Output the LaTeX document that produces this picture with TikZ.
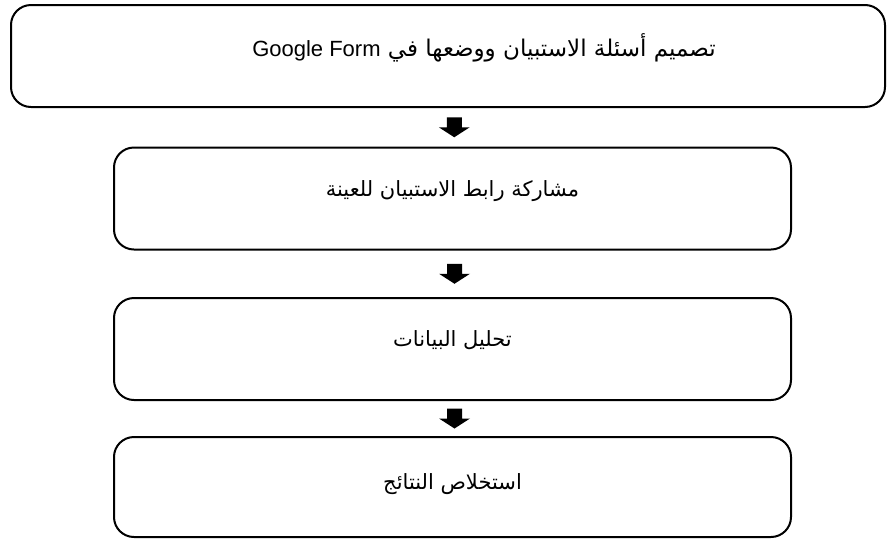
\documentclass[tikz,border=0pt]{standalone}
\usepackage{fontspec}
\newfontfamily\arabicfont[Script=Arabic]{DejaVu Sans}
\newfontfamily\latinfont{Liberation Sans}
\TeXXeTstate=1
\usetikzlibrary{calc}

\tikzset{
	stepbox/.style={draw, line width=2pt, rounded corners=20pt, minimum height=102pt, inner sep=0pt},
	steptext/.style={font=\arabicfont\fontsize{21}{25}\selectfont, inner sep=0pt},
	blockarrow/.pic={\fill (-7.5,-10) -- (7.5,-10) -- (7.5,0) -- (15.5,0) -- (0,10) -- (-15.5,0) -- (-7.5,0) -- cycle;}
}

\begin{document}
\begin{tikzpicture}[x=1pt,y=-1pt]
	\useasboundingbox (0,0) rectangle (888,539);

	\node[stepbox, minimum width=874pt] (b1) at (448,56) {};
	\node[stepbox, minimum width=677pt] (b2) at (452.5,198.5) {};
	\node[stepbox, minimum width=677pt] (b3) at (452.5,349) {};
	\node[stepbox, minimum width=677pt, minimum height=100pt] (b4) at (452.5,487) {};

	\node[steptext, font=\arabicfont\fontsize{23}{27}\selectfont] (t1) at ([xshift=36pt,yshift=8pt]b1.center) {\beginR تصميم أسئلة الاستبيان ووضعها في \beginL{\latinfont\fontsize{22}{26}\selectfont Google Form}\endL\endR};
	\node[steptext] (t2) at ([yshift=7pt]b2.center) {\beginR مشاركة رابط الاستبيان للعينة\endR};
	\node[steptext] (t3) at ([yshift=9pt]b3.center) {\beginR تحليل البيانات\endR};
	\node[steptext] (t4) at ([yshift=3pt]b4.center) {\beginR استخلاص النتائج\endR};

	\pic at ([xshift=4pt]$(b1.south)!.5!(b2.north)$) {blockarrow};
	\pic at ([xshift=2pt]$(b2.south)!.5!(b3.north)$) {blockarrow};
	\pic at ([xshift=2pt]$(b3.south)!.5!(b4.north)$) {blockarrow};

\end{tikzpicture}
\end{document}
